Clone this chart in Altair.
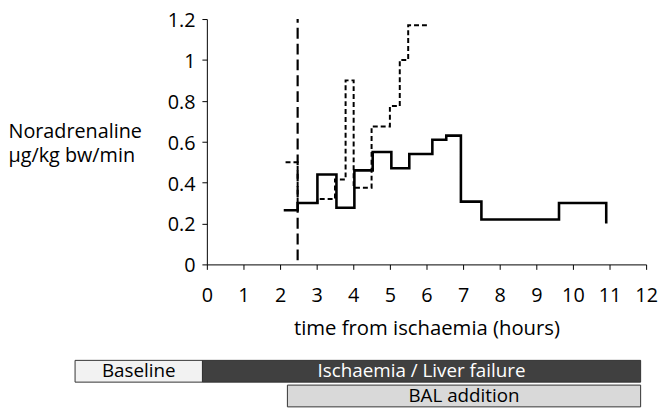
import altair as alt
import pandas as pd

# --- data ---
solid_t = [2.1, 2.48, 3.02, 3.54, 4.03, 4.53, 5.04, 5.53, 6.16, 6.54, 6.94, 7.5, 9.62, 10.91]
solid_v = [0.265, 0.30, 0.44, 0.277, 0.46, 0.55, 0.47, 0.54, 0.61, 0.63, 0.307, 0.22, 0.30, 0.20]

dashed_t = [2.15, 2.48, 3.02, 3.5, 3.79, 4.01, 4.5, 5.0, 5.27, 5.5, 6.02]
dashed_v = [0.50, 0.30, 0.32, 0.415, 0.90, 0.375, 0.675, 0.775, 1.0, 1.17, 1.17]

vline_t = [2.48, 2.48]
vline_v = [0.02, 1.2]

phase_labels = ["Baseline", "Ischaemia / Liver failure", "BAL addition"]
phase_start = [-3.6, -0.12, 2.2]
phase_end = [-0.12, 11.85, 11.85]
phase_row = [0, 0, 1]

x_ticks = list(range(0, 13))
y_ticks = [0, 0.2, 0.4, 0.6, 0.8, 1.0, 1.2]

FONT = "Open Sans"

solid_df = pd.DataFrame({"t": solid_t, "v": solid_v, "i": range(len(solid_t))})
dashed_df = pd.DataFrame({"t": dashed_t, "v": dashed_v, "i": range(len(dashed_t))})
vline_df = pd.DataFrame({"t": vline_t, "v": vline_v, "i": range(len(vline_t))})
phase_df = pd.DataFrame({
    "label": phase_labels, "start": phase_start, "end": phase_end, "row": phase_row,
})

xscale = alt.Scale(domain=[0, 12], nice=False, zero=False)
yscale = alt.Scale(domain=[0, 1.2], nice=False)

x_axis = alt.Axis(values=x_ticks, title="time from ischaemia (hours)", grid=False,
                  tickSize=5, labelPadding=16, titlePadding=14, format="d",
                  labelOverlap=False, labelFlush=False, labelFontSize=20,
                  titleFontSize=20.5)
y_axis = alt.Axis(values=y_ticks, format="~g", grid=False, tickSize=5, labelPadding=7,
                  labelOffset=1.5, labelOverlap=False, labelFlush=False, labelFontSize=20,
                  title=["Noradrenaline", "µg/kg bw/min"], titleAngle=0, titleAlign="left",
                  titleBaseline="alphabetic", titleX=-201, titleY=120,
                  titleLineHeight=24.5, titleFontSize=20)

X = alt.X("t:Q", scale=xscale, axis=x_axis)
Y = alt.Y("v:Q", scale=yscale, axis=y_axis)

solid = alt.Chart(solid_df).mark_line(interpolate="step-after", color="black",
                                      strokeWidth=2.6).encode(x=X, y=Y, order="i:Q")
dashed = alt.Chart(dashed_df).mark_line(interpolate="step-after", color="black",
                                        strokeWidth=2, strokeDash=[5, 3]).encode(
    x=X, y=Y, order="i:Q")
vline = alt.Chart(vline_df).mark_line(color="black", strokeWidth=2.2,
                                      strokeDash=[11, 5]).encode(x=X, y=Y, order="i:Q")

top = alt.layer(solid, dashed, vline).properties(width=444, height=248)

bx = alt.Scale(domain=[0, 12], nice=False, zero=False)
by = alt.Scale(domain=[0, 1], paddingInner=3 / 25, paddingOuter=0)
rects = alt.Chart(phase_df).mark_bar(stroke="#333333", strokeWidth=1).encode(
    x=alt.X("start:Q", scale=bx, axis=None),
    x2="end:Q",
    y=alt.Y("row:O", scale=by, axis=None),
    color=alt.Color("label:N", scale=alt.Scale(domain=phase_labels,
                                               range=["#f2f2f2", "#404040", "#d9d9d9"]),
                    legend=None),
)
texts = alt.Chart(phase_df).transform_calculate(
    mid="(datum.start + datum.end) / 2"
).mark_text(fontSize=19, font=FONT, baseline="middle").encode(
    x=alt.X("mid:Q", scale=bx, axis=None),
    y=alt.Y("row:O", scale=by, axis=None),
    text="label:N",
    color=alt.Color("label:N", scale=alt.Scale(domain=phase_labels,
                                               range=["black", "white", "black"]),
                    legend=None),
)
bottom = alt.layer(rects, texts).resolve_scale(color="independent").properties(
    width=444, height=47)

chart = alt.vconcat(top, bottom, spacing=20).properties(
    padding={"left": 0, "top": 0, "right": 0, "bottom": 0}
).configure_view(stroke=None).configure_axis(
    domainColor="black", tickColor="black", labelFont=FONT, titleFont=FONT,
    titleFontWeight="normal", labelColor="black",
    titleColor="black", domainWidth=1, tickWidth=1,
)

chart.save("out.html", embed_options={"renderer": "svg", "actions": False})
